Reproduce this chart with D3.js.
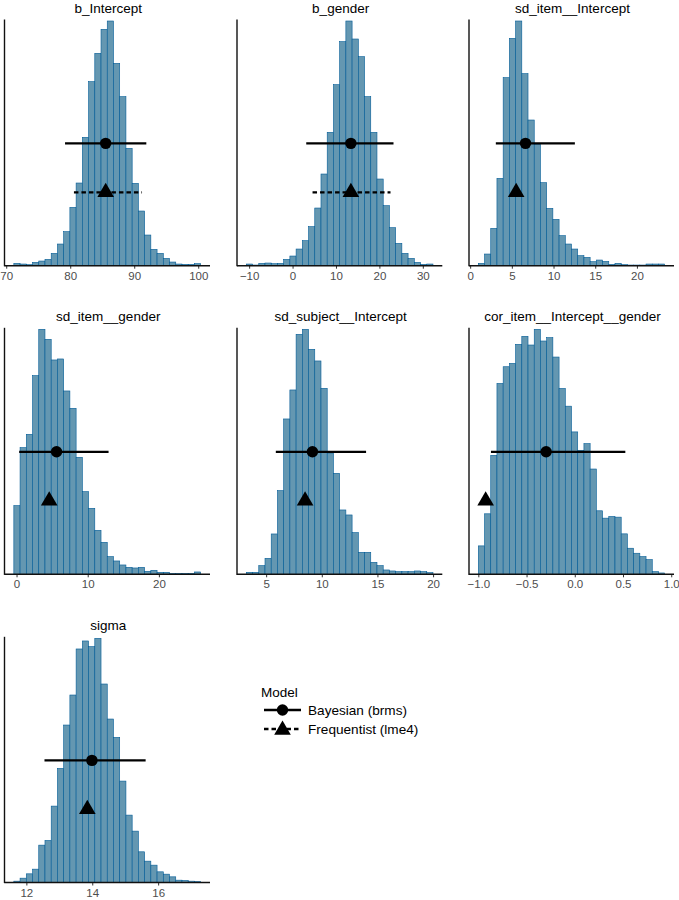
<!DOCTYPE html>
<html>
<head>
<meta charset="utf-8">
<script src="https://cdn.jsdelivr.net/npm/d3@7"></script>
<style>
  html, body { margin: 0; padding: 0; background: #fff; }
  svg { display: block; font-family: "Liberation Sans", Arial, Helvetica, sans-serif; }
</style>
</head>
<body>
<svg id="chart" width="679" height="900"></svg>
<script>
// ---------------- data ----------------
const parameters = ["b_Intercept", "b_gender", "sd_item__Intercept", "sd_item__gender",
                    "sd_subject__Intercept", "cor_item__Intercept__gender", "sigma"];

// histogram bins: first bin edge, bin width, and counts (30 bins each)
const binStarts = [71.19, -10.65, 0.98, -0.38, 3.22, -1.0, 11.62];
const binWidths = [0.973, 1.433, 0.745, 0.875, 0.559, 0.0644, 0.189];

const countsBIntercept = [7,5,3,10,14,19,37,65,102,175,248,385,552,637,709,734,607,507,352,247,164,92,49,37,22,11,5,4,4,6];
const countsBGender    = [5,2,7,8,6,7,19,29,50,75,117,173,275,400,543,672,734,680,627,507,400,260,180,114,67,37,22,10,4,5];
const countsSdItemInt  = [7,35,112,262,564,682,734,576,437,364,249,172,139,90,65,50,30,25,12,17,13,4,7,3,2,2,2,5,5,5];
const countsSdItemGen  = [206,380,420,596,735,705,643,646,550,498,351,248,198,132,96,53,40,28,21,19,21,9,12,6,6,3,3,3,3,7];
const countsSdSubjInt  = [6,6,26,48,121,251,466,553,720,735,675,640,558,364,303,193,178,125,66,66,36,26,13,10,8,8,8,10,8,5];
const countsCorItem    = [85,181,356,571,621,631,688,712,686,733,698,708,650,556,503,426,371,391,315,190,168,173,171,121,78,63,53,44,8,4];
const countsSigma      = [4,13,26,40,112,126,229,342,472,562,700,724,707,732,595,490,435,304,202,154,92,64,52,32,25,17,7,6,4,3];
const counts = [countsBIntercept, countsBGender, countsSdItemInt, countsSdItemGen,
                countsSdSubjInt, countsCorItem, countsSigma];

// Bayesian (brms) estimates with 95% intervals
const bayesEst = [85.54, 13.43, 6.64, 5.62, 9.16, -0.297, 13.99];
const bayesLo  = [79.19, 3.15, 3.08, 0.37, 5.87, -0.869, 12.55];
const bayesHi  = [91.89, 23.25, 12.56, 12.93, 13.98, 0.524, 15.62];
// Frequentist (lme4) estimates; intervals only for fixed effects
const freqEst = [85.54, 13.43, 5.52, 4.59, 8.50, -0.924, 13.85];
const freqLo  = [80.58, 4.60, null, null, null, null, null];
const freqHi  = [91.22, 22.56, null, null, null, null, null];

// x-axis tick values and labels
const tickValues = [
  [70, 80, 90, 100],
  [-10, 0, 10, 20, 30],
  [0, 5, 10, 15, 20],
  [0, 10, 20],
  [5, 10, 15, 20],
  [-1.0, -0.5, 0.0, 0.5, 1.0],
  [12, 14, 16]
];
const tickLabels = [
  ["70", "80", "90", "100"],
  ["\u221210", "0", "10", "20", "30"],
  ["0", "5", "10", "15", "20"],
  ["0", "10", "20"],
  ["5", "10", "15", "20"],
  ["\u22121.0", "\u22120.5", "0.0", "0.5", "1.0"],
  ["12", "14", "16"]
];

const legendTitle = "Model";
const legendLabels = ["Bayesian (brms)", "Frequentist (lme4)"];

// ---------------- layout ----------------
const svg = d3.select("#chart");
const cols = [[4.5, 210], [237, 442.3], [469, 674]];
const rows = [{top: 21, bottom: 265.7}, {top: 329.3, bottom: 574.3}, {top: 638.3, bottom: 882.5}];
const fillColor = "#6497b1";
const edgeColor = "#005b96";
const bayesFrac = 0.5, freqFrac = 0.3;
const triSize = 120;

parameters.forEach((name, p) => {
  const col = cols[p % 3], row = rows[Math.floor(p / 3)];
  const c = counts[p];
  const start = binStarts[p], w = binWidths[p];
  const W = w * c.length;
  const x = d3.scaleLinear()
    .domain([start - 0.05 * W, start + W + 0.05 * W])
    .range(col);
  const maxC = d3.max(c);
  const y = d3.scaleLinear().domain([0, maxC]).range([row.bottom, row.top]);

  const g = svg.append("g");

  // bars
  g.selectAll("rect.bar").data(c).join("rect")
    .attr("class", "bar")
    .attr("x", (d, i) => x(start + i * w))
    .attr("width", (d, i) => x(start + (i + 1) * w) - x(start + i * w))
    .attr("y", d => y(d))
    .attr("height", d => y(0) - y(d))
    .attr("fill", fillColor)
    .attr("stroke", edgeColor)
    .attr("stroke-width", 0.6);

  // x axis
  const axis = d3.axisBottom(x)
    .tickValues(tickValues[p])
    .tickFormat((d, i) => tickLabels[p][i])
    .tickSize(3)
    .tickSizeOuter(0)
    .tickPadding(3);
  const ax = g.append("g").attr("transform", `translate(0,${row.bottom})`).call(axis);
  ax.select(".domain").remove();
  ax.selectAll(".tick line").attr("stroke", "#333").attr("stroke-width", 1);
  ax.selectAll(".tick text")
    .attr("fill", "#4d4d4d")
    .attr("font-size", "11.5px")
    .attr("font-family", "Liberation Sans, Arial, Helvetica, sans-serif");

  // axis lines
  g.append("line")
    .attr("x1", col[0]).attr("x2", col[1])
    .attr("y1", row.bottom).attr("y2", row.bottom)
    .attr("stroke", "#111").attr("stroke-width", 1.4);
  g.append("line")
    .attr("x1", col[0]).attr("x2", col[0])
    .attr("y1", row.top - 1.5).attr("y2", row.bottom + 0.6)
    .attr("stroke", "#111").attr("stroke-width", 1.4);

  // title
  g.append("text")
    .attr("x", (col[0] + col[1]) / 2 + 1)
    .attr("y", row.top - 8.5)
    .attr("text-anchor", "middle")
    .attr("font-size", "13.5px")
    .attr("fill", "#000")
    .text(name);

  // Bayesian pointrange
  const yb = y(maxC * bayesFrac);
  g.append("line")
    .attr("x1", x(bayesLo[p])).attr("x2", x(bayesHi[p]))
    .attr("y1", yb).attr("y2", yb)
    .attr("stroke", "#000").attr("stroke-width", 2.3);
  g.append("circle")
    .attr("cx", x(bayesEst[p])).attr("cy", yb).attr("r", 5.7)
    .attr("fill", "#000");

  // Frequentist pointrange
  const yf = y(maxC * freqFrac);
  if (freqLo[p] !== null && freqHi[p] !== null) {
    g.append("line")
      .attr("x1", x(freqLo[p])).attr("x2", x(freqHi[p]))
      .attr("y1", yf).attr("y2", yf)
      .attr("stroke", "#000").attr("stroke-width", 2.3)
      .attr("stroke-dasharray", "4.5,3");
  }
  g.append("path")
    .attr("d", d3.symbol(d3.symbolTriangle, triSize)())
    .attr("transform", `translate(${x(freqEst[p])},${yf})`)
    .attr("fill", "#000");
});

// ---------------- legend ----------------
const lg = svg.append("g");
lg.append("text").attr("x", 261).attr("y", 696.5)
  .attr("font-size", "13.5px").attr("fill", "#000").text(legendTitle);
const legendY = [710, 729];
legendLabels.forEach((lab, i) => {
  const yy = legendY[i];
  lg.append("line")
    .attr("x1", 264).attr("x2", 301).attr("y1", yy).attr("y2", yy)
    .attr("stroke", "#000").attr("stroke-width", 2.3)
    .attr("stroke-dasharray", i === 0 ? null : "4.5,3");
  if (i === 0) {
    lg.append("circle").attr("cx", 282.5).attr("cy", yy).attr("r", 5.7).attr("fill", "#000");
  } else {
    lg.append("path")
      .attr("d", d3.symbol(d3.symbolTriangle, triSize)())
      .attr("transform", `translate(282.5,${yy + 1})`)
      .attr("fill", "#000");
  }
  lg.append("text").attr("x", 308).attr("y", yy + 4.8)
    .attr("font-size", "13.6px").attr("fill", "#000").text(lab);
});
</script>
</body>
</html>
